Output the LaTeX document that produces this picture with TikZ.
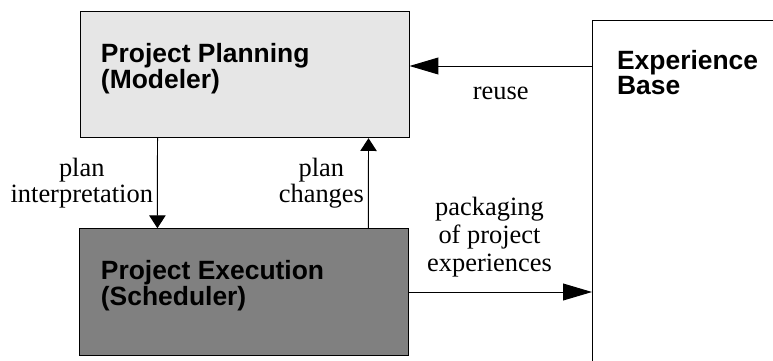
\documentclass[tikz,border=0pt]{standalone}
\usepackage{fontspec}
\setmainfont{Liberation Serif}
\setsansfont{Liberation Sans}
\usepackage{tikz}
\usetikzlibrary{arrows.meta,calc}
\definecolor{planfill}{HTML}{E6E6E6}
\definecolor{execfill}{HTML}{808080}
\tikzset{
  line/.style={draw=black, -{Triangle[length=3.2mm,width=4.1mm]}, line width=0.7pt},
  longline/.style={draw=black, -{Triangle[length=7.2mm,width=4.2mm]}, line width=0.7pt},
  box/.style={
    draw=black,
    line width=0.7pt,
    minimum width=8.225cm,
    minimum height=3.15cm,
    inner sep=0pt
  },
  title/.style={anchor=north west, align=left, inner sep=0pt,
    font=\sffamily\bfseries\fontsize{18.8}{17.4}\selectfont},
  lab/.style={align=center, inner sep=1mm, font=\fontsize{18.8}{18.5}\selectfont}
}

\begin{document}
\begin{tikzpicture}[x=1cm,y=1cm]
  \clip (0,0) rectangle (19.325,9);

  \node[box, fill=planfill] (planning) at (6.1125,7.1325) {};
  \node[box, fill=execfill, minimum height=3.165cm] (execution) at (6.11,1.7) {};
  \node[box, fill=white, minimum width=6cm, minimum height=10cm, anchor=north west] (base) at (14.8,8.5) {};

  \node[title] (plantitle) at ([xshift=5.3mm,yshift=-7.9mm]planning.north west)
    {Project Planning\\(Modeler)};
  \node[title] (exectitle) at ([xshift=5.3mm,yshift=-7.9mm]execution.north west)
    {Project Execution\\(Scheduler)};
  \node[title] (basetitle) at ([xshift=6.2mm,yshift=-7.6mm]base.north west)
    {Experience\\Base};

  \coordinate (reusestart) at ([yshift=-1.15cm]base.north west);

  \draw[line] ([xshift=1.95cm]planning.south west) -- ([xshift=1.95cm]execution.north west)
    node[lab, midway, left] {plan\\interpretation};
  \draw[line] ([xshift=7.225cm]execution.north west) -- ([xshift=7.225cm]planning.south west)
    node[lab, midway, left] {plan\\changes};
  \draw[longline] (reusestart) -- (reusestart -| planning.east)
    node[lab, midway, below=4.2mm] {reuse};
  \draw[longline] (execution.east) -- (execution.east -| base.west)
    node[lab, midway, above=2.5mm, xshift=-2.8mm, font=\fontsize{18.8}{20}\selectfont] {packaging\\of project\\experiences};
\end{tikzpicture}
\end{document}
